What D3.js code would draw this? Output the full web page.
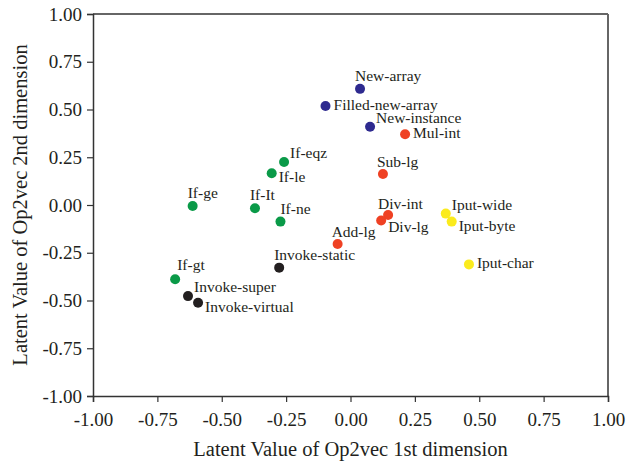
<!DOCTYPE html>
<html>
<head>
<meta charset="utf-8">
<script src="https://cdn.jsdelivr.net/npm/d3@7"></script>
<style>
  body { margin: 0; background: #fff; }
  text { font-family: "Liberation Serif", "DejaVu Serif", serif; fill: #231f20; }
</style>
</head>
<body>
<div id="chart"></div>
<script>
// Opcode names, their 2-D Op2vec coordinates and group
const opcodes = ["New-array", "Filled-new-array", "New-instance", "Mul-int", "Sub-lg",
  "Div-int", "Div-lg", "Add-lg", "Iput-wide", "Iput-byte", "Iput-char",
  "If-eqz", "If-le", "If-ge", "If-It", "If-ne", "If-gt",
  "Invoke-static", "Invoke-super", "Invoke-virtual"];
const dim1 = [0.037, -0.097, 0.076, 0.212, 0.126,
  0.146, 0.119, -0.050, 0.370, 0.393, 0.460,
  -0.258, -0.306, -0.613, -0.371, -0.272, -0.681,
  -0.277, -0.631, -0.592];
const dim2 = [0.608, 0.518, 0.410, 0.370, 0.162,
  -0.052, -0.081, -0.204, -0.045, -0.087, -0.311,
  0.225, 0.166, -0.005, -0.017, -0.087, -0.389,
  -0.328, -0.477, -0.512];
const groups = ["new", "new", "new", "arith", "arith",
  "arith", "arith", "arith", "iput", "iput", "iput",
  "if", "if", "if", "if", "if", "if",
  "invoke", "invoke", "invoke"];
// where each label sits relative to its dot
const labelSide = ["above", "right", "upright", "right", "aboveleft",
  "aboveleft2", "belowright", "aboveleft", "upright", "downright", "right",
  "upright", "downright", "above", "above", "above0", "above1",
  "above", "upright", "downright"];
const xTicks = [-1, -0.75, -0.5, -0.25, 0, 0.25, 0.5, 0.75, 1];
const yTicks = [-1, -0.75, -0.5, -0.25, 0, 0.25, 0.5, 0.75, 1];

const groupColor = { new: "#2e2a8f", arith: "#ef4123", iput: "#fbeb1d", if: "#0a9a48", invoke: "#231f20" };
const labelOffset = {
  above: [-5, -8], above0: [0, -8], above1: [2, -9],
  aboveleft: [-6, -7], aboveleft2: [-10, -6],
  right: [8, 4], upright: [6, -4], downright: [7, 9], belowright: [7, 12]
};

const width = 641, height = 464;
const margin = { top: 14, right: 33, bottom: 68, left: 93 };
const innerWidth = width - margin.left - margin.right;
const innerHeight = height - margin.top - margin.bottom;

const svg = d3.select("#chart").append("svg")
  .attr("width", width)
  .attr("height", height);

const g = svg.append("g")
  .attr("transform", `translate(${margin.left},${margin.top})`);

const x = d3.scaleLinear().domain([-1, 1]).range([0, innerWidth]);
const y = d3.scaleLinear().domain([-1, 1]).range([innerHeight, 0]);

// top and right frame lines
g.append("line").attr("x1", 0).attr("x2", innerWidth).attr("y1", 0).attr("y2", 0)
  .attr("stroke", "#333").attr("stroke-width", 1.5);
g.append("line").attr("x1", innerWidth).attr("x2", innerWidth).attr("y1", 0).attr("y2", innerHeight)
  .attr("stroke", "#666").attr("stroke-width", 2);

const fmt = d => d3.format(".2f")(d).replace("\u2212", "-");

const xAxis = g.append("g")
  .attr("transform", `translate(0,${innerHeight})`)
  .call(d3.axisBottom(x).tickValues(xTicks).tickFormat(fmt).tickSizeOuter(0).tickSize(6).tickPadding(11));
const yAxis = g.append("g")
  .call(d3.axisLeft(y).tickValues(yTicks).tickFormat(fmt).tickSizeOuter(0).tickSize(6).tickPadding(5));

[xAxis, yAxis].forEach(a => {
  a.select(".domain").attr("stroke", "#333").attr("stroke-width", 1.5);
  a.selectAll(".tick line").attr("stroke", "#333").attr("stroke-width", 1.2);
  a.selectAll(".tick text")
    .style("font-family", "'Liberation Serif', serif")
    .style("font-size", "19px")
    .attr("fill", "#231f20");
});

// axis titles
svg.append("text")
  .attr("x", margin.left + innerWidth / 2)
  .attr("y", 456)
  .attr("text-anchor", "middle")
  .style("font-size", "20.5px")
  .text("Latent Value of Op2vec 1st dimension");
svg.append("text")
  .attr("transform", `translate(27,${margin.top + innerHeight / 2}) rotate(-90)`)
  .attr("text-anchor", "middle")
  .style("font-size", "20.5px")
  .text("Latent Value of Op2vec 2nd dimension");

const points = opcodes.map((name, i) => ({
  name, x: dim1[i], y: dim2[i], group: groups[i], side: labelSide[i]
}));

g.selectAll(".dot")
  .data(points)
  .join("circle")
    .attr("class", "dot")
    .attr("cx", d => x(d.x))
    .attr("cy", d => y(d.y))
    .attr("r", 5)
    .attr("fill", d => groupColor[d.group]);

g.selectAll(".label")
  .data(points)
  .join("text")
    .attr("class", "label")
    .attr("x", d => x(d.x) + labelOffset[d.side][0])
    .attr("y", d => y(d.y) + labelOffset[d.side][1])
    .style("font-size", "15.5px")
    .text(d => d.name);
</script>
</body>
</html>
